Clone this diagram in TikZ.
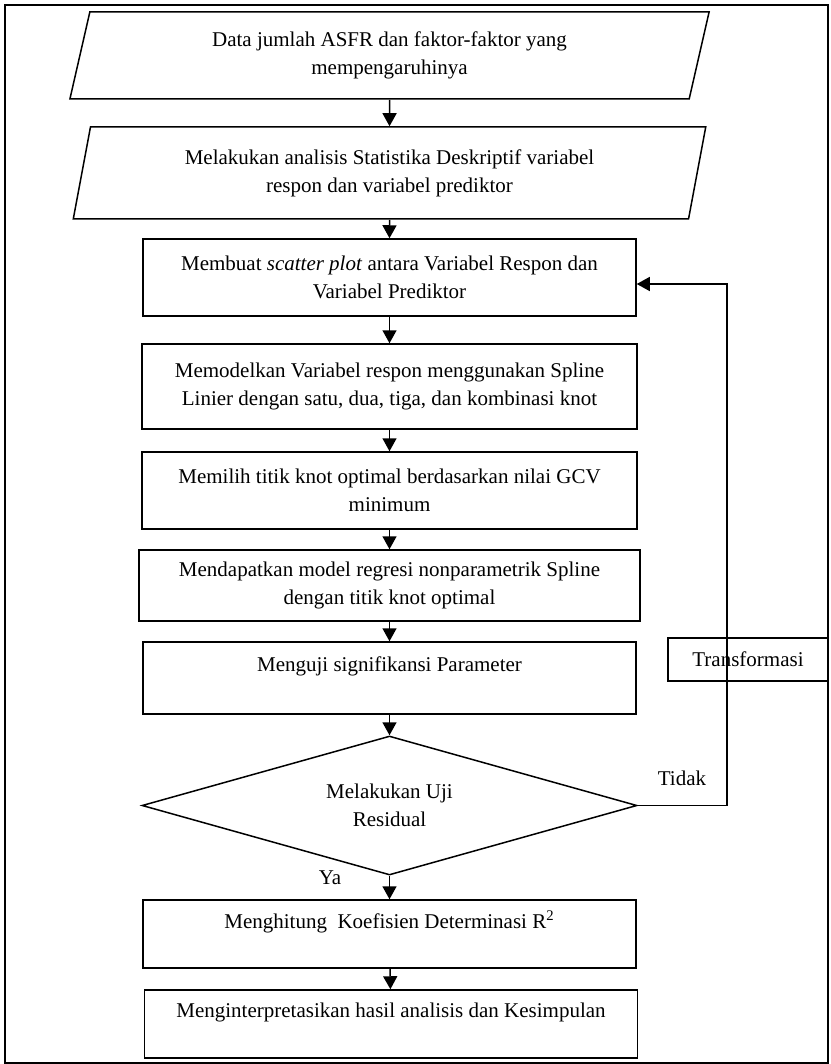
\documentclass[tikz,border=0pt]{standalone}
\usepackage{fontspec}
\setmainfont{Liberation Serif}
\usetikzlibrary{shapes.geometric, arrows.meta, positioning, calc}

\begin{document}
\begin{tikzpicture}[
    x=0.5pt, y=-0.5pt,
    every node/.style={font=\fontsize{10.5}{14}\selectfont},
    inbox/.style={draw, line width=0.75pt, trapezium, trapezium stretches=true, trapezium left angle=76, trapezium right angle=104, align=center, inner sep=0pt},
    procbox/.style={draw, line width=0.75pt, minimum width=246.5pt, align=center, inner sep=0pt},
    decide/.style={draw, line width=0.75pt, diamond, aspect=3.56, minimum width=247.5pt, minimum height=69.5pt, align=center, inner sep=0pt},
    arrow/.style={-{Triangle[width=7pt,length=6.5pt]}, line width=0.75pt}
]
    \useasboundingbox (0,0) rectangle (830,1064);
    % Outer frame
    \draw[line width=1.1pt] (5,5) rectangle (828,1063);

    % Input data
    \node[inbox, minimum width=320pt, minimum height=43.5pt] (data) at (389.5,55.5) {Data jumlah ASFR dan faktor-faktor yang\\mempengaruhinya};
    \node[inbox, minimum width=317pt, minimum height=46pt] (desc) at (389.5,173) {Melakukan analisis Statistika Deskriptif variabel\\respon dan variabel prediktor};

    % Process steps
    \node[procbox, minimum height=38.5pt] (scatter) at (389.5,277.5) {Membuat \textit{scatter plot} antara Variabel Respon dan\\Variabel Prediktor};
    \node[procbox, minimum width=247.5pt, minimum height=42.5pt] (model) at (389.5,386.5) {Memodelkan Variabel respon menggunakan Spline\\Linier dengan satu, dua, tiga, dan kombinasi knot};
    \node[procbox, minimum width=247.5pt, minimum height=38.5pt] (knot) at (389.5,490.5) {Memilih titik knot optimal berdasarkan nilai GCV\\minimum};
    \node[procbox, minimum width=250.5pt, minimum height=35.5pt] (spline) at (389.5,585.5) {Mendapatkan model regresi nonparametrik Spline\\dengan titik knot optimal};
    \node[procbox, minimum height=36pt] (param) at (389.5,678) {Menguji signifikansi Parameter\\\mbox{}};

    % Decision
    \node[decide] (resid) at (389.5,805.5) {Melakukan Uji\\Residual};

    \node[procbox, minimum height=34pt] (rsq) at (389.5,934) {Menghitung\ \ Koefisien Determinasi R\textsuperscript{2}\\\mbox{}};
    \node[procbox, minimum height=34pt] (concl) at (391,1024) {Menginterpretasikan hasil analisis dan Kesimpulan\\\mbox{}};

    % Feedback branch
    \node[draw, line width=0.75pt, minimum width=80pt, minimum height=21.5pt, inner sep=0pt] (trans) at (748,659.5) {Transformasi};
    \coordinate (loop) at (727,500);

    % Arrows
    \draw[arrow] (data) -- (desc);
    \draw[arrow] (desc) -- (scatter);
    \draw[arrow] (scatter) -- (model);
    \draw[arrow] (model) -- (knot);
    \draw[arrow] (knot) -- (spline);
    \draw[arrow] (spline) -- (param);
    \draw[arrow] (param) -- (resid);
    \draw[arrow] (resid) -- (rsq);
    \draw[arrow] (rsq) -- (concl);
    \draw[arrow] (resid.east) -| (loop) |- ($(scatter.east)+(0,6.5)$);

    % Branch labels
    \node (tidak) at (682,778) {Tidak};
    \node (ya) at (330,878) {Ya};
\end{tikzpicture}
\end{document}
